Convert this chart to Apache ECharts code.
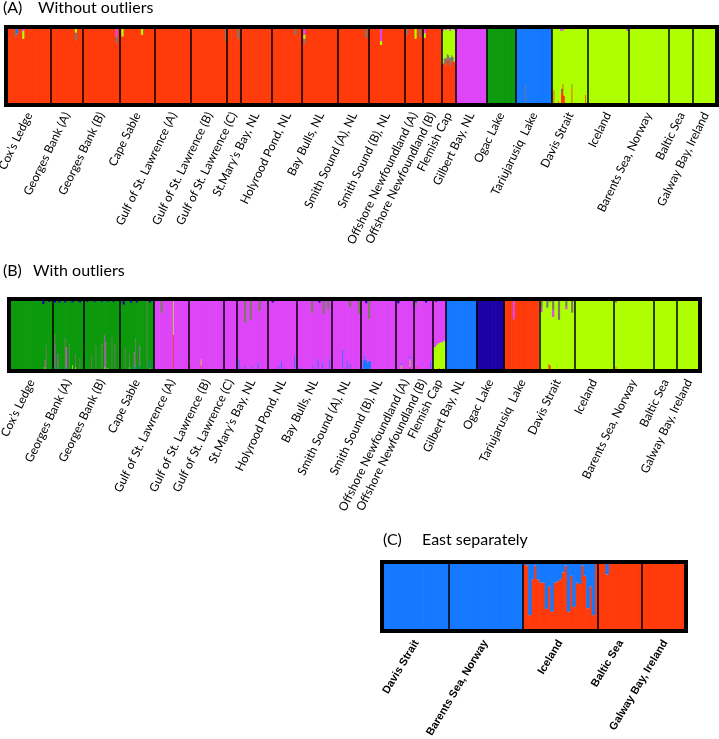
<!DOCTYPE html>
<html>
<head>
<meta charset="utf-8">
<title>STRUCTURE plots</title>
<script src="https://cdn.jsdelivr.net/npm/echarts@6/dist/echarts.min.js"></script>
<style>
  html, body { margin: 0; padding: 0; background: #fff; }
  #chart { width: 719px; height: 739px; }
</style>
</head>
<body>
<div id="chart"></div>
<script>
// populations, west to east (panels A and B)
const popNames = [
  'Cox\u2019s Ledge', 'Georges Bank (A)', 'Georges Bank (B)', 'Cape Sable',
  'Gulf of St. Lawrence (A)', 'Gulf of St. Lawrence (B)', 'Gulf of St. Lawrence (C)',
  'St.Mary\u2019s Bay, NL', 'Holyrood Pond, NL', 'Bay Bulls, NL', 'Smith Sound (A), NL',
  'Smith Sound (B), NL', 'Offshore Newfoundland (A)', 'Offshore Newfoundland (B)',
  'Flemish Cap', 'Gilbert Bay, NL', 'Ogac Lake', 'Tariujarusiq  Lake', 'Davis Strait',
  'Iceland', 'Barents Sea, Norway', 'Baltic Sea', 'Galway Bay, Ireland'
]
// individuals per population
const popSizes = [30, 21, 25, 23, 24, 24, 9, 21, 20, 24, 20, 24, 12, 13, 9, 21, 19, 24, 24, 27, 27, 16, 16]

// main cluster of each population
// A clusters: 0 red, 1 grey, 2 lime, 3 magenta, 4 green, 5 blue
const mainA = [0, 0, 0, 0, 0, 0, 0, 0, 0, 0, 0, 0, 0, 0, 0, 3, 4, 5, 2, 2, 2, 2, 2]
// B clusters: 0 red, 1 lime, 2 blue, 3 magenta, 4 grey, 5 green, 6 navy
const mainB = [5, 5, 5, 5, 3, 3, 3, 3, 3, 3, 3, 3, 3, 3, 3, 2, 6, 0, 1, 1, 1, 1, 1]

// admixed individuals: [population, individual, cluster, fraction, cluster, fraction, ...]
const admixA = [
  [0, 6, 1, 0.12], [0, 7, 5, 0.08], [0, 11, 2, 0.10, 3, 0.05],
  [1, 16, 1, 0.10, 2, 0.07],
  [2, 22, 1, 0.08, 3, 0.12],
  [3, 1, 2, 0.12], [3, 14, 2, 0.10],
  [5, 23, 1, 0.18],
  [6, 7, 1, 0.15],
  [8, 15, 1, 0.10],
  [9, 1, 1, 0.06, 2, 0.05, 3, 0.10],
  [10, 18, 1, 0.14],
  [11, 8, 2, 0.05, 3, 0.18],
  [12, 1, 1, 0.10], [12, 7, 2, 0.15], [12, 10, 1, 0.12],
  [13, 1, 2, 0.06, 3, 0.08],
  [14, 0, 2, 0.42, 3, 0.05], [14, 1, 2, 0.40, 1, 0.04], [14, 2, 2, 0.36, 1, 0.08, 3, 0.04],
  [14, 3, 2, 0.34, 1, 0.08], [14, 4, 2, 0.36, 1, 0.06], [14, 5, 2, 0.34, 1, 0.10, 3, 0.05],
  [14, 6, 2, 0.36, 1, 0.08], [14, 7, 2, 0.38, 1, 0.06], [14, 8, 2, 0.40, 3, 0.04],
  [17, 6, 1, 0.25],
  [18, 1, 0, 0.19], [18, 4, 0, 0.05], [18, 6, 0, 0.15, 1, 0.06, 3, 0.05],
  [18, 7, 0, 0.27, 3, 0.04], [18, 8, 0, 0.12], [18, 13, 0, 0.22, 1, 0.05], [18, 22, 0, 0.13],
  [19, 26, 3, 0.05],
  [20, 0, 1, 0.08]
]

const admixB = [
  [0, 23, 6, 0.07], [0, 24, 4, 0.10, 1, 0.05], [0, 25, 4, 0.35], [0, 27, 6, 0.04],
  [1, 1, 1, 0.03, 2, 0.03, 3, 0.30, 4, 0.15, 6, 0.05], [1, 3, 0, 0.03, 3, 0.20], [1, 4, 6, 0.05],
  [1, 8, 4, 0.45, 6, 0.05], [1, 9, 2, 0.06, 3, 0.27], [1, 11, 4, 0.37],
  [1, 13, 0, 0.03, 1, 0.05, 6, 0.05], [1, 15, 1, 0.05, 4, 0.20], [1, 18, 4, 0.18, 6, 0.05],
  [2, 2, 6, 0.04], [2, 5, 4, 0.22], [2, 7, 6, 0.04], [2, 8, 0, 0.04, 4, 0.30],
  [2, 12, 4, 0.37, 6, 0.04], [2, 14, 1, 0.05, 3, 0.45], [2, 15, 4, 0.40],
  [2, 16, 1, 0.04, 6, 0.04], [2, 19, 4, 0.46], [2, 20, 6, 0.04], [2, 21, 4, 0.37],
  [3, 2, 6, 0.08], [3, 3, 4, 0.32], [3, 6, 1, 0.05, 4, 0.20], [3, 7, 6, 0.05],
  [3, 9, 2, 0.08, 4, 0.18], [3, 10, 4, 0.45], [3, 11, 6, 0.05], [3, 13, 2, 0.08, 3, 0.27],
  [3, 18, 4, 0.97], [3, 20, 1, 0.04, 2, 0.10, 6, 0.05],
  [4, 5, 4, 0.19], [4, 13, 0, 0.50, 1, 0.50],
  [5, 0, 0, 0.08, 1, 0.10], [5, 8, 0, 0.08, 1, 0.08],
  [7, 1, 2, 0.17], [7, 5, 2, 0.08, 4, 0.33], [7, 9, 4, 0.29], [7, 10, 2, 0.08],
  [7, 14, 2, 0.12], [7, 15, 4, 0.17],
  [8, 3, 6, 0.05], [8, 7, 2, 0.07], [8, 9, 2, 0.14], [8, 18, 0, 0.03, 2, 0.18],
  [9, 2, 2, 0.06], [9, 10, 2, 0.08, 4, 0.19], [9, 14, 0, 0.03, 2, 0.14], [9, 15, 6, 0.05],
  [9, 17, 2, 0.12], [9, 18, 4, 0.21], [9, 21, 4, 0.14], [9, 22, 2, 0.17],
  [10, 7, 0, 0.04, 2, 0.27], [10, 10, 2, 0.14], [10, 12, 2, 0.10, 4, 0.12],
  [10, 14, 0, 0.04], [10, 18, 4, 0.21],
  [11, 1, 2, 0.15], [11, 2, 0, 0.03, 2, 0.18], [11, 3, 2, 0.16, 6, 0.06], [11, 4, 2, 0.12],
  [11, 5, 2, 0.14, 4, 0.28], [11, 6, 0, 0.04, 2, 0.10], [11, 23, 0, 0.05, 2, 0.05],
  [12, 1, 6, 0.06], [12, 3, 1, 0.08, 2, 0.04], [12, 6, 0, 0.05], [12, 9, 0, 0.06, 1, 0.10, 2, 0.05],
  [13, 1, 4, 0.05, 6, 0.04], [13, 2, 0, 0.07], [13, 8, 6, 0.05], [13, 11, 2, 0.14],
  [14, 0, 0, 0.04, 1, 0.30], [14, 1, 1, 0.33], [14, 2, 1, 0.36, 6, 0.04], [14, 3, 1, 0.38],
  [14, 4, 0, 0.05, 1, 0.34], [14, 5, 1, 0.40], [14, 6, 1, 0.40, 6, 0.03],
  [14, 7, 0, 0.04, 1, 0.38], [14, 8, 1, 0.42],
  [17, 6, 3, 0.28],
  [18, 1, 3, 0.06, 4, 0.12], [18, 5, 4, 0.12], [18, 6, 0, 0.10], [18, 7, 0, 0.08, 4, 0.04],
  [18, 9, 3, 0.10, 4, 0.15], [18, 13, 4, 0.29], [18, 18, 3, 0.04, 4, 0.10], [18, 22, 4, 0.19],
  [20, 1, 0, 0.06, 4, 0.05]
]

// panel C: eastern populations only, clusters 0 red, 1 blue
const popNamesC = ['Davis Strait', 'Barents Sea, Norway', 'Iceland', 'Baltic Sea', 'Galway Bay, Ireland']
const popSizesC = [24, 27, 27, 16, 16]
const mainC = [1, 1, 0, 0, 0]
const icelandBlueC = [0.03, 0.05, 0.77, 0.25, 0.05, 0.25, 0.30, 0.30, 0.68, 0.35, 0.72, 0.30, 0.28, 0.25,
  0.15, 0.05, 0.72, 0.20, 0.65, 0.30, 0.32, 0.05, 0.20, 0.67, 0.35, 0.77, 0.02]
const admixC = icelandBlueC.map((f, i) => [2, i, 1, f]).concat([[3, 3, 1, 0.18]])

// cluster colours, bottom to top of each bar
const coloursA = ['#ff3b0b', '#7d7868', '#aeff00', '#de45f7', '#0c9a0c', '#1579ff']
const coloursB = ['#ff3b0b', '#aeff00', '#1579ff', '#de45f7', '#7d7868', '#0c9a0c', '#1c00a6']
const coloursC = ['#ff3b0b', '#1579ff']

// turn the population tables into one bar per individual
function buildPanel(names, sizes, mains, admix, k) {
  const extra = {}
  admix.forEach(row => {
    const parts = {}
    for (let j = 2; j < row.length; j += 2) parts[row[j]] = row[j + 1]
    extra[row[0] + '_' + row[1]] = parts
  })
  const ids = []
  const values = []
  for (let c = 0; c < k; c++) values.push([])
  const starts = new Set()
  const labelAt = {}
  let n = 0
  sizes.forEach((size, p) => {
    if (n > 0) starts.add(n)
    labelAt[n + Math.floor(size / 2)] = names[p]
    for (let i = 0; i < size; i++) {
      const parts = extra[p + '_' + i] || {}
      let rest = 1
      for (let c = 0; c < k; c++) {
        if (parts[c] !== undefined) rest -= parts[c]
      }
      for (let c = 0; c < k; c++) {
        let v = parts[c] !== undefined ? parts[c] : 0
        if (c === mains[p]) v += rest
        values[c].push(+v.toFixed(3))
      }
      ids.push('ind' + n)
      n++
    }
  })
  return { ids, values, starts, labelAt }
}

const panels = [
  {
    data: buildPanel(popNames, popSizes, mainA, admixA, coloursA.length),
    colours: coloursA,
    grid: { left: 6, top: 27, width: 711, height: 78 },
    label: { fontFamily: 'Lato', fontSize: 12, fontWeight: 'normal', rotate: 64, margin: 8, padding: [34, 0, 0, 0] }
  },
  {
    data: buildPanel(popNames, popSizes, mainB, admixB, coloursB.length),
    colours: coloursB,
    grid: { left: 9, top: 299, width: 691, height: 72 },
    label: { fontFamily: 'Lato', fontSize: 12, fontWeight: 'normal', rotate: 64, margin: 9, padding: [34, 0, 0, 0] }
  },
  {
    data: buildPanel(popNamesC, popSizesC, mainC, admixC, coloursC.length),
    colours: coloursC,
    grid: { left: 382, top: 562, width: 304, height: 69 },
    label: { fontFamily: 'Liberation Sans', fontSize: 11, fontWeight: 'bold', rotate: 59, margin: 10, padding: [28, 0, 0, 0] }
  }
]

const titleStyle = { fontFamily: 'Lato', fontSize: 16, fontWeight: 'normal', color: '#000' }
const titles = [
  ['(A)', 3, 0], ['Without outliers', 38, 0],
  ['(B)', 3, 263], ['With outliers', 33, 263],
  ['(C)', 383, 532], ['East separately', 422, 532]
]

const option = {
  animation: false,
  backgroundColor: '#fff',
  title: titles.map(t => ({ text: t[0], left: t[1], top: t[2], padding: 0, textStyle: titleStyle })),
  grid: panels.map(p => Object.assign({
    show: true, borderColor: '#000', borderWidth: 4, backgroundColor: 'transparent',
    z: 10, containLabel: false, outerBoundsMode: 'none'
  }, p.grid)),
  xAxis: panels.map((p, gi) => ({
    type: 'category',
    gridIndex: gi,
    data: p.data.ids,
    boundaryGap: true,
    z: 10,
    axisLine: { show: false },
    axisTick: { show: false },
    splitLine: {
      show: true,
      interval: idx => p.data.starts.has(idx),
      lineStyle: { color: '#000', width: 1.5 }
    },
    axisLabel: Object.assign({
      interval: 0,
      hideOverlap: false,
      color: '#000',
      formatter: (v, idx) => p.data.labelAt[idx] || ''
    }, p.label)
  })),
  yAxis: panels.map((p, gi) => ({ type: 'value', gridIndex: gi, min: 0, max: 1, show: false })),
  series: []
}

panels.forEach((p, gi) => {
  // bars a little wider than one band so neighbours overlap and leave no seams
  const band = p.grid.width / p.data.ids.length
  p.colours.forEach((col, c) => {
    option.series.push({
      type: 'bar',
      xAxisIndex: gi,
      yAxisIndex: gi,
      stack: 'panel' + gi,
      barWidth: band + 0.7,
      silent: true,
      itemStyle: { color: col, borderWidth: 0 },
      data: p.data.values[c]
    })
  })
})

const myChart = echarts.init(document.getElementById('chart'), null, { renderer: 'canvas' })
myChart.setOption(option)
</script>
</body>
</html>
